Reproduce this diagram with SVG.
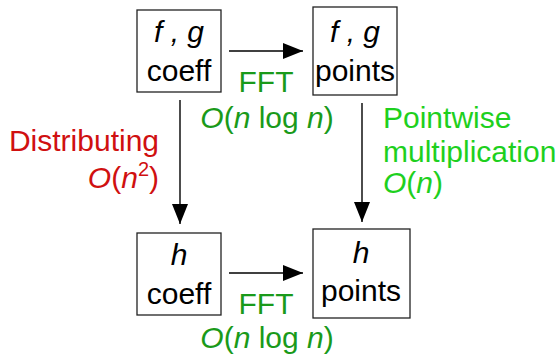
<svg xmlns="http://www.w3.org/2000/svg" width="559" height="360" viewBox="0 0 559 360">
<style>
text{font-family:"Liberation Sans",Arial,sans-serif;font-size:30px}
.k{fill:#000;text-anchor:middle}
.box{fill:#fff;stroke:#222;stroke-width:1.3}
.g1{fill:#1a9a1a}
.g2{fill:#1ed01e}
.r{fill:#d01010}
.i{font-style:italic}
.ln{stroke:#000;stroke-width:1.4;fill:none}
</style>
<defs>
<marker id="ahb" viewBox="0 0 20 16" refX="20" refY="8" markerWidth="20" markerHeight="16" markerUnits="userSpaceOnUse" orient="auto"><path d="M0,0 L20,8 L0,16 z" fill="#000"/></marker>
</defs>
<g id="n1"><rect class="box" x="137" y="10" width="84" height="82"/><text class="k i" x="179" y="42">f , g</text><text class="k" x="179" y="81" font-size="28">coeff</text></g>
<g id="n2"><rect class="box" x="313" y="7" width="84" height="88"/><text class="k i" x="355" y="42">f , g</text><text class="k" x="355" y="81" font-size="29">points</text></g>
<g id="n3"><rect class="box" x="137" y="233" width="84" height="82"/><text class="k i" x="179" y="265">h</text><text class="k" x="179" y="304" font-size="28">coeff</text></g>
<g id="n4"><rect class="box" x="313" y="229" width="97" height="89"/><text class="k i" x="361" y="263">h</text><text class="k" x="361" y="301" font-size="29">points</text></g>
<g id="connectors">
<line class="ln" x1="229" y1="51" x2="303" y2="51" marker-end="url(#ahb)"/>
<line class="ln" x1="229" y1="273" x2="303" y2="273" marker-end="url(#ahb)"/>
<line class="ln" x1="180" y1="100" x2="180" y2="224" marker-end="url(#ahb)"/>
<line class="ln" x1="362" y1="103" x2="362" y2="222" marker-end="url(#ahb)"/>
</g>
<g id="labels">
<text class="g1" x="266" y="92" text-anchor="middle">FFT</text>
<text class="g1" x="267" y="128" text-anchor="middle"><tspan class="i">O</tspan>(<tspan class="i">n</tspan> log <tspan class="i">n</tspan>)</text>
<text class="g1" x="266" y="314" text-anchor="middle">FFT</text>
<text class="g1" x="267" y="348" text-anchor="middle"><tspan class="i">O</tspan>(<tspan class="i">n</tspan> log <tspan class="i">n</tspan>)</text>
<text class="r" x="159" y="151" text-anchor="end">Distributing</text>
<text class="r" x="159" y="188" text-anchor="end"><tspan class="i">O</tspan>(<tspan class="i">n</tspan><tspan font-size="20" dy="-12">2</tspan><tspan dy="12">)</tspan></text>
<text class="g2" x="383" y="128">Pointwise</text>
<text class="g2" x="383" y="162">multiplication</text>
<text class="g2" x="383" y="193"><tspan class="i">O</tspan>(<tspan class="i">n</tspan>)</text>
</g>
</svg>
